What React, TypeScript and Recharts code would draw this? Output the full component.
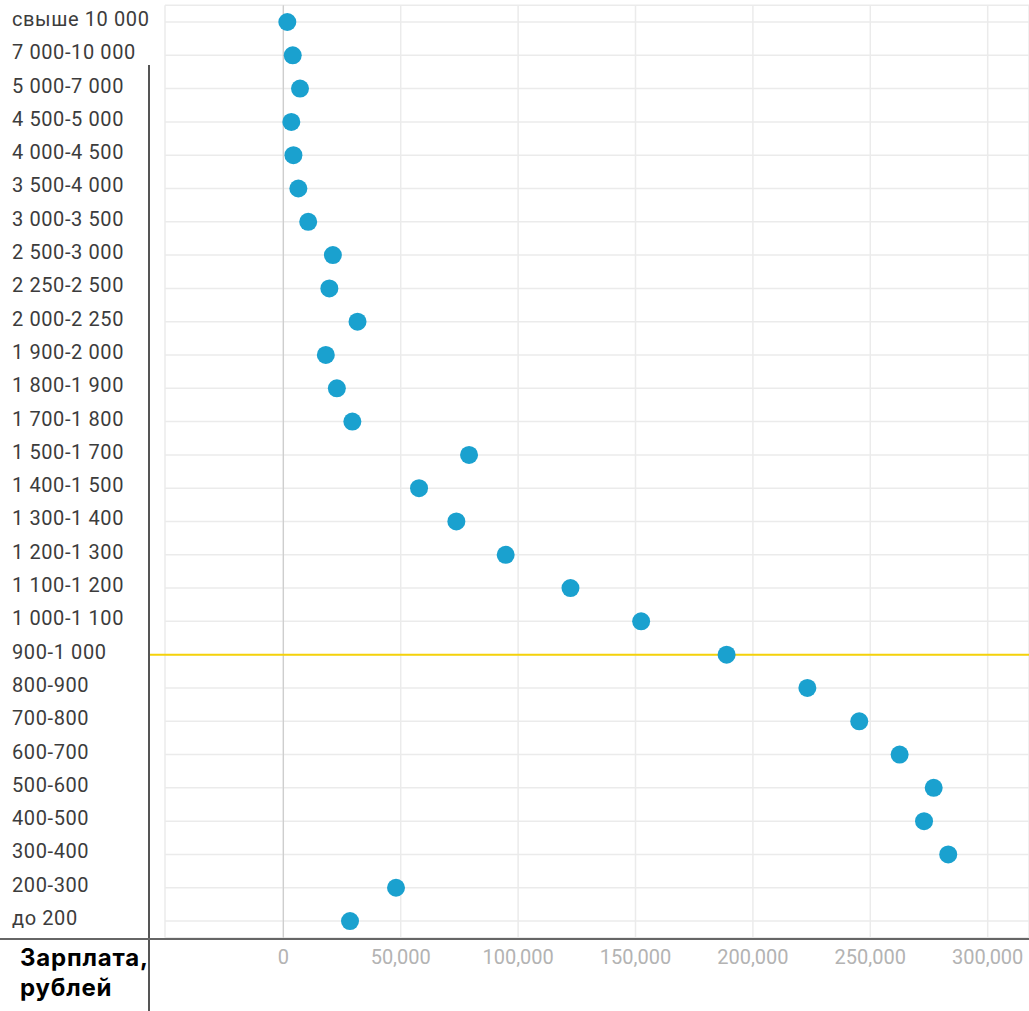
import React from 'react';
import { ComposedChart, Line, XAxis, YAxis, CartesianGrid, ReferenceLine } from 'recharts';

const categories = [
  'свыше 10 000', '7 000-10 000', '5 000-7 000', '4 500-5 000', '4 000-4 500',
  '3 500-4 000', '3 000-3 500', '2 500-3 000', '2 250-2 500', '2 000-2 250',
  '1 900-2 000', '1 800-1 900', '1 700-1 800', '1 500-1 700', '1 400-1 500',
  '1 300-1 400', '1 200-1 300', '1 100-1 200', '1 000-1 100', '900-1 000',
  '800-900', '700-800', '600-700', '500-600', '400-500', '300-400', '200-300', 'до 200',
];

const salaries = [
  1700, 4000, 7100, 3400, 4300,
  6400, 10600, 21100, 19600, 31600,
  18100, 22800, 29400, 79100, 57800,
  73700, 94700, 122300, 152400, 188800,
  223200, 245300, 262500, 277000, 272900, 283200, 48000, 28400,
];

const xTicks = [0, 50000, 100000, 150000, 200000, 250000, 300000];
const xDomain = [-50400, 317600];
const markerCategory = '900-1 000';

const data = categories.map((c, i) => ({ range: c, value: salaries[i] }));

const YTick = (props: any) => {
  const { y, payload } = props;
  return (
    <text x={12} y={y + 4} textAnchor="start" fill="#3c3c3c"
      style={{ fontFamily: 'Roboto', fontSize: 20, letterSpacing: 0.6 }}>
      {payload.value}
    </text>
  );
};

const XTick = (props: any) => {
  const { x, y, payload } = props;
  return (
    <text x={x} y={y + 18} textAnchor="middle" fill="#b3b3b3"
      style={{ fontFamily: 'Roboto', fontSize: 20 }}>
      {Number(payload.value).toLocaleString('en-US')}
    </text>
  );
};

export default function App() {
  return (
    <div style={{ position: 'absolute', left: 0, top: 0, width: 1029, height: 1011, background: '#fff', overflow: 'hidden' }}>
      <ComposedChart
        width={1029}
        height={1011}
        layout="vertical"
        data={data}
        margin={{ top: 5.35, right: 0, bottom: 33.3, left: 0 }}
      >
        <CartesianGrid stroke="#ebebeb" strokeWidth={1.5} />
        <XAxis
          type="number"
          dataKey="value"
          domain={xDomain}
          ticks={xTicks}
          allowDataOverflow
          axisLine={false}
          tickLine={false}
          height={40}
          tick={<XTick />}
        />
        <YAxis
          type="category"
          dataKey="range"
          width={165}
          axisLine={false}
          tickLine={false}
          interval={0}
          padding={{ top: 16.65, bottom: 16.65 }}
          tick={<YTick />}
        />
        <ReferenceLine x={0} stroke="#cccccc" strokeWidth={1.2} />
        <Line
          dataKey="value"
          stroke="none"
          isAnimationActive={false}
          dot={{ r: 9, fill: '#1aa1cf', stroke: 'none' }}
          activeDot={false}
        />
        <ReferenceLine
          segment={[{ x: -57600, y: markerCategory }, { x: 317600, y: markerCategory }]}
          stroke="#f5d20a"
          strokeWidth={2}
          ifOverflow="visible"
        />
      </ComposedChart>
      <div style={{ position: 'absolute', left: 148, top: 65, width: 2, height: 946, background: '#555' }} />
      <div style={{ position: 'absolute', left: 0, top: 938, width: 1029, height: 2, background: '#666' }} />
      <div style={{
        position: 'absolute', left: 20, top: 943, fontFamily: 'Inter', fontWeight: 700,
        fontSize: 24, lineHeight: '30px', color: '#000', letterSpacing: 0.8,
      }}>
        Зарплата,<br />рублей
      </div>
    </div>
  );
}
